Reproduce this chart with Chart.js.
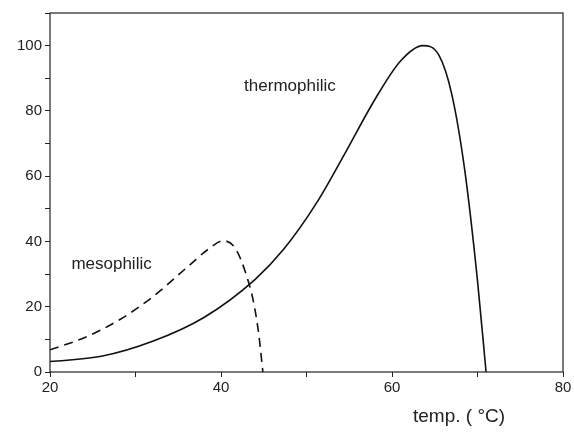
<!DOCTYPE html>
<html>
<head>
<meta charset="utf-8">
<script src="https://cdn.jsdelivr.net/npm/chart.js@4"></script>
<style>
  html, body { margin: 0; padding: 0; background: #fff; }
  #wrap { width: 574px; height: 435px; }
</style>
</head>
<body>
<div id="wrap"><canvas id="chart" width="574" height="435"></canvas></div>
<script>
// values
const thermoTemp = [20, 26, 32, 38, 44, 47.3, 51.2, 54.5, 58, 61, 63.6, 65.5, 67, 68.5, 70, 71];
const thermoRate = [3.2, 4.8, 9.4, 16.7, 28.4, 37.5, 51.9, 67, 83.5, 95.3, 100, 97, 85, 62, 28, 0];
const mesoTemp = [20, 24, 28, 32, 36, 38.5, 40.3, 41.7, 42.8, 43.8, 44.4, 44.9];
const mesoRate = [6.8, 10.5, 15.8, 23, 32, 37.6, 40.2, 37.8, 31, 21.5, 11.9, 0];
const labels = [
  { text: 'thermophilic', x: 42.7, y: 87.4 },
  { text: 'mesophilic', x: 22.5, y: 32.9 }
];
const xTitle = 'temp. ( \u00B0C)';

const FONT = '"Liberation Sans", Arial, sans-serif';
const pts = (xs, ys) => xs.map((x, i) => ({ x, y: ys[i] }));

const extras = {
  id: 'extras',
  afterDraw(c) {
    const ctx = c.ctx, a = c.chartArea, sx = c.scales.x, sy = c.scales.y;
    ctx.save();
    ctx.strokeStyle = '#222';
    ctx.lineWidth = 1.2;
    ctx.strokeRect(a.left, a.top, a.right - a.left, a.bottom - a.top);
    ctx.fillStyle = '#222';
    ctx.font = '17px ' + FONT;
    ctx.textAlign = 'left';
    ctx.textBaseline = 'middle';
    labels.forEach(l => ctx.fillText(l.text, sx.getPixelForValue(l.x), sy.getPixelForValue(l.y)));
    ctx.font = '19px ' + FONT;
    ctx.fillText(xTitle, 413, 417);
    ctx.restore();
  }
};

new Chart(document.getElementById('chart'), {
  type: 'scatter',
  data: {
    datasets: [
      {
        data: pts(thermoTemp, thermoRate),
        showLine: true,
        borderColor: '#111',
        borderWidth: 1.6,
        pointRadius: 0,
        cubicInterpolationMode: 'monotone'
      },
      {
        data: pts(mesoTemp, mesoRate),
        showLine: true,
        borderColor: '#111',
        borderWidth: 1.6,
        borderDash: [9, 6],
        pointRadius: 0,
        cubicInterpolationMode: 'monotone'
      }
    ]
  },
  options: {
    responsive: false,
    animation: false,
    layout: { padding: { top: 13, right: 11, left: 0, bottom: 0 } },
    plugins: { legend: { display: false }, tooltip: { enabled: false } },
    scales: {
      x: {
        min: 20, max: 80,
        afterFit: s => { s.height = 63; },
        border: { display: false },
        grid: { drawOnChartArea: false, tickLength: 5, color: '#222' },
        ticks: {
          stepSize: 10,
          color: '#222',
          font: { family: FONT, size: 15 },
          padding: 2,
          maxRotation: 0,
          callback: v => (v % 20 === 0 ? v : '')
        }
      },
      y: {
        min: 0, max: 110,
        afterFit: s => { s.width = 50; },
        border: { display: false },
        grid: { drawOnChartArea: false, tickLength: 5, color: '#222' },
        ticks: {
          stepSize: 10,
          color: '#222',
          font: { family: FONT, size: 15 },
          padding: 3,
          callback: v => (v % 20 === 0 && v <= 100 ? v : '')
        }
      }
    }
  },
  plugins: [extras]
});
</script>
</body>
</html>
